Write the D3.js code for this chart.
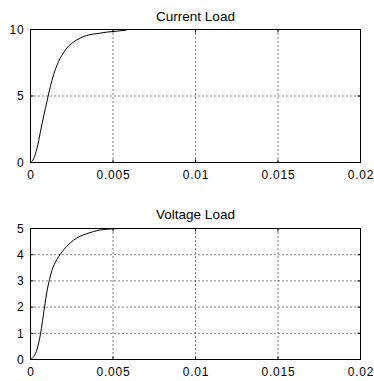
<!doctype html>
<html lang="en">
<head>
  <meta charset="utf-8">
  <title>Current Load / Voltage Load</title>
  <style>
    body { margin: 0; background: #fff; }
    svg { display: block; }
    text { font-family: Arial, "Liberation Sans", sans-serif; fill: #000; }
    .tick text { font-size: 12px; letter-spacing: 0.8px; }
    .title { font-size: 13.5px; }
  </style>
  <script src="https://d3js.org/d3.v7.min.js"></script>
</head>
<body>
  <div id="chart"></div>
  <script>
    // x ticks shared by both plots
    let xTicks = [0, 0.005, 0.01, 0.015, 0.02]
    let xTickLabels = ["0", "0.005", "0.01", "0.015", "0.02"]

    // Current Load
    let timeCurrent = [0, 0.0002, 0.0004, 0.0006, 0.0008, 0.001, 0.0012, 0.0014, 0.0016, 0.0018, 0.002, 0.0022, 0.0026, 0.003, 0.0034, 0.0038, 0.0042, 0.0046, 0.005, 0.0054, 0.0058]
    let current = [0, 0.3, 1.1, 2.3, 3.5, 4.6, 5.7, 6.6, 7.3, 7.85, 8.25, 8.6, 9.05, 9.35, 9.55, 9.65, 9.72, 9.8, 9.85, 9.9, 9.95]
    let currentTicks = [0, 5, 10]

    // Voltage Load
    let timeVoltage = [0, 0.0002, 0.0004, 0.0006, 0.00085, 0.001, 0.00115, 0.0013, 0.0015, 0.0017, 0.0019, 0.0022, 0.0026, 0.003, 0.0034, 0.0038, 0.0042, 0.0046, 0.005, 0.0054]
    let voltage = [0, 0.12, 0.4, 0.95, 2.0, 2.6, 3.05, 3.4, 3.7, 3.92, 4.1, 4.32, 4.55, 4.7, 4.8, 4.88, 4.94, 4.97, 4.99, 5.0]
    let voltageTicks = [0, 1, 2, 3, 4, 5]

    const svg = d3.select("#chart").append("svg")
      .attr("width", 374)
      .attr("height", 381)

    svg.append("rect").attr("width", 374).attr("height", 381).attr("fill", "#fff")

    function drawPanel(top, bottom, title, titleGap, xs, ys, yMax, yTicks) {
      const x = d3.scaleLinear().domain([0, 0.02]).range([30.5, 360.5])
      const y = d3.scaleLinear().domain([0, yMax]).range([bottom + 0.5, top + 0.5])
      const g = svg.append("g")

      // dotted grid
      g.selectAll(".vgrid").data(xTicks.slice(1, -1))
        .enter().append("line")
        .attr("x1", d => x(d)).attr("x2", d => x(d))
        .attr("y1", y(yMax)).attr("y2", y(0))
        .attr("stroke", "#000").attr("stroke-dasharray", "1,3")

      g.selectAll(".hgrid").data(yTicks.slice(1, -1))
        .enter().append("line")
        .attr("x1", x(0)).attr("x2", x(0.02))
        .attr("y1", d => y(d)).attr("y2", d => y(d))
        .attr("stroke", "#000").attr("stroke-dasharray", "1,3")

      // inside ticks on all four sides
      const tl = 3
      xTicks.forEach(t => {
        g.append("line").attr("x1", x(t)).attr("x2", x(t)).attr("y1", y(0)).attr("y2", y(0) - tl).attr("stroke", "#000")
        g.append("line").attr("x1", x(t)).attr("x2", x(t)).attr("y1", y(yMax)).attr("y2", y(yMax) + tl).attr("stroke", "#000")
      })
      yTicks.forEach(t => {
        g.append("line").attr("x1", x(0)).attr("x2", x(0) + tl).attr("y1", y(t)).attr("y2", y(t)).attr("stroke", "#000")
        g.append("line").attr("x1", x(0.02)).attr("x2", x(0.02) - tl).attr("y1", y(t)).attr("y2", y(t)).attr("stroke", "#000")
      })

      // box
      g.append("rect")
        .attr("x", x(0)).attr("y", y(yMax))
        .attr("width", x(0.02) - x(0)).attr("height", y(0) - y(yMax))
        .attr("fill", "none").attr("stroke", "#000")

      // tick labels
      const xAxis = d3.axisBottom(x).tickValues(xTicks)
        .tickFormat((d, i) => xTickLabels[i]).tickSize(0).tickPadding(8)
      g.append("g").attr("transform", `translate(0,${y(0)})`).call(xAxis)
        .call(a => a.select(".domain").remove())

      const yAxis = d3.axisLeft(y).tickValues(yTicks).tickFormat(d3.format("d"))
        .tickSize(0).tickPadding(6)
      g.append("g").attr("transform", `translate(${x(0)},0)`).call(yAxis)
        .call(a => a.select(".domain").remove())

      g.selectAll(".tick text").attr("font-size", null).attr("font-family", null)

      // curve
      const pts = xs.map((t, i) => [t, ys[i]])
      g.append("path").datum(pts)
        .attr("fill", "none").attr("stroke", "#000").attr("stroke-width", 1)
        .attr("d", d3.line().x(d => x(d[0])).y(d => y(d[1])).curve(d3.curveMonotoneX))

      // title
      g.append("text").attr("class", "title")
        .attr("x", (x(0) + x(0.02)) / 2).attr("y", top - titleGap)
        .attr("text-anchor", "middle")
        .text(title)
    }

    drawPanel(29, 162, "Current Load", 8, timeCurrent, current, 10, currentTicks)
    drawPanel(228, 359, "Voltage Load", 9.5, timeVoltage, voltage, 5, voltageTicks)
  </script>
</body>
</html>
